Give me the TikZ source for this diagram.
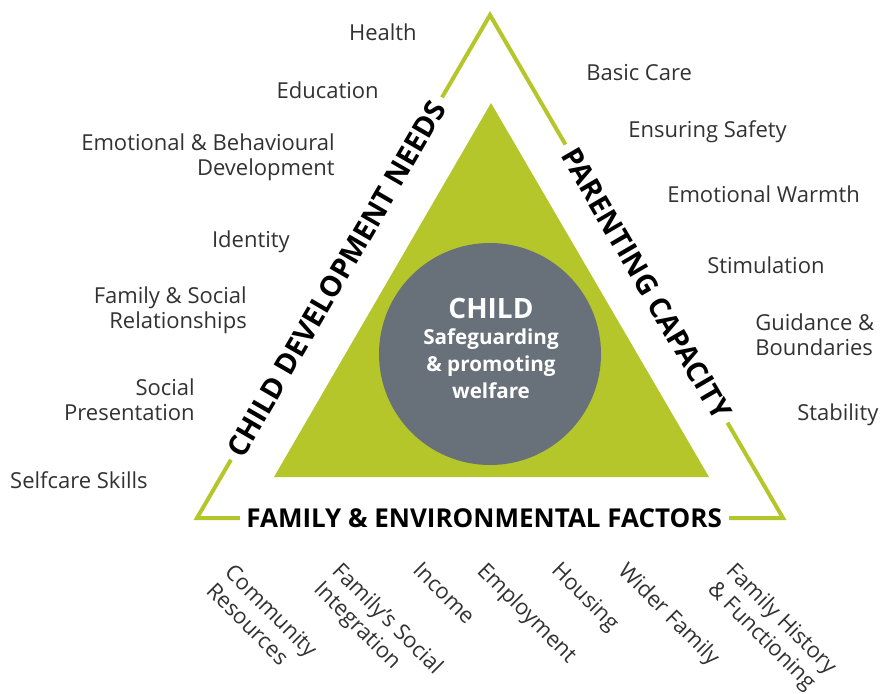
\documentclass[tikz,border=0pt]{standalone}
\usepackage{fontspec}
\setmainfont{Open Sans}
\definecolor{leaf}{RGB}{180,198,42}
\definecolor{slate}{RGB}{104,112,121}
\definecolor{ink}{RGB}{50,50,50}

\begin{document}
\begin{tikzpicture}[x=0.75pt, y=-0.75pt,
    need/.style={text=ink, font=\fontsize{16.5}{18.75}\selectfont, inner sep=0pt, align=right, anchor=east},
    care/.style={text=ink, font=\fontsize{16.5}{18.75}\selectfont, inner sep=0pt, align=left, anchor=west},
    factor/.style={text=ink, font=\fontsize{16.5}{19.5}\selectfont, inner sep=0pt, align=left, anchor=north west, rotate=-45},
    side/.style={font=\fontsize{21.5}{24}\selectfont\bfseries, fill=white, inner xsep=5pt, inner ysep=2pt, sloped}]

    \useasboundingbox (0,0) rectangle (888,693);
    \clip (0,0) rectangle (888,693);

    % outer triangle with its three titles
    \coordinate (top) at (490,15);
    \coordinate (bl) at (197,518);
    \coordinate (br) at (783,518);
    \draw[leaf, line width=3pt] (top) -- (bl) -- (br) -- cycle;
    \path (bl) -- (top) node[side, pos=0.476] (needs) {CHILD DEVELOPMENT NEEDS};
    \path (top) -- (br) node[side, pos=0.534] (parenting) {PARENTING CAPACITY};
    \path (bl) -- (br) node[side, pos=0.49, font=\fontsize{19.5}{21}\selectfont\bfseries] (factors) {FAMILY \& ENVIRONMENTAL FACTORS};

    % inner triangle and the child
    \fill[leaf] (491,103) -- (274,477) -- (709,477) -- cycle;
    \node[circle, fill=slate, inner sep=0pt, minimum size=166.5pt] (child) at (490,354) {};
    \node[align=center, text=white, font=\bfseries\fontsize{15.5}{20}\selectfont] (welfare) at (491,348)
        {{\fontsize{21}{23}\selectfont CHILD}\\ Safeguarding\\ \& promoting\\ welfare};

    % child development needs
    \node[need] (health) at (417,32) {Health};
    \node[need] (education) at (379,90) {Education};
    \node[need] (emotional) at (335,157) {Emotional \& Behavioural\\Development};
    \node[need] (identity) at (290,242) {Identity};
    \node[need] (relations) at (247,310) {Family \& Social\\Relationships};
    \node[need] (presentation) at (195,400) {Social\\Presentation};
    \node[need] (selfcare) at (148,480) {Selfcare Skills};

    % parenting capacity
    \node[care] (basic) at (586,73) {Basic Care};
    \node[care] (safety) at (628,132) {Ensuring Safety};
    \node[care] (warmth) at (667,194) {Emotional Warmth};
    \node[care] (stimulation) at (707,265) {Stimulation};
    \node[care] (guidance) at (755,335) {Guidance \&\\Boundaries};
    \node[care] (stability) at (797,415) {Stability};

    % family and environmental factors
    \node[factor] (community) at (235,562) {Community\\Resources};
    \node[factor] (integration) at (343,560) {Family's Social\\Integration};
    \node[factor] (income) at (423,560) {Income};
    \node[factor] (employment) at (488,560) {Employment};
    \node[factor] (housing) at (562,560) {Housing};
    \node[factor] (wider) at (629,560) {Wider Family};
    \node[factor] (history) at (737,560) {Family History\\\& Functioning};
\end{tikzpicture}
\end{document}
